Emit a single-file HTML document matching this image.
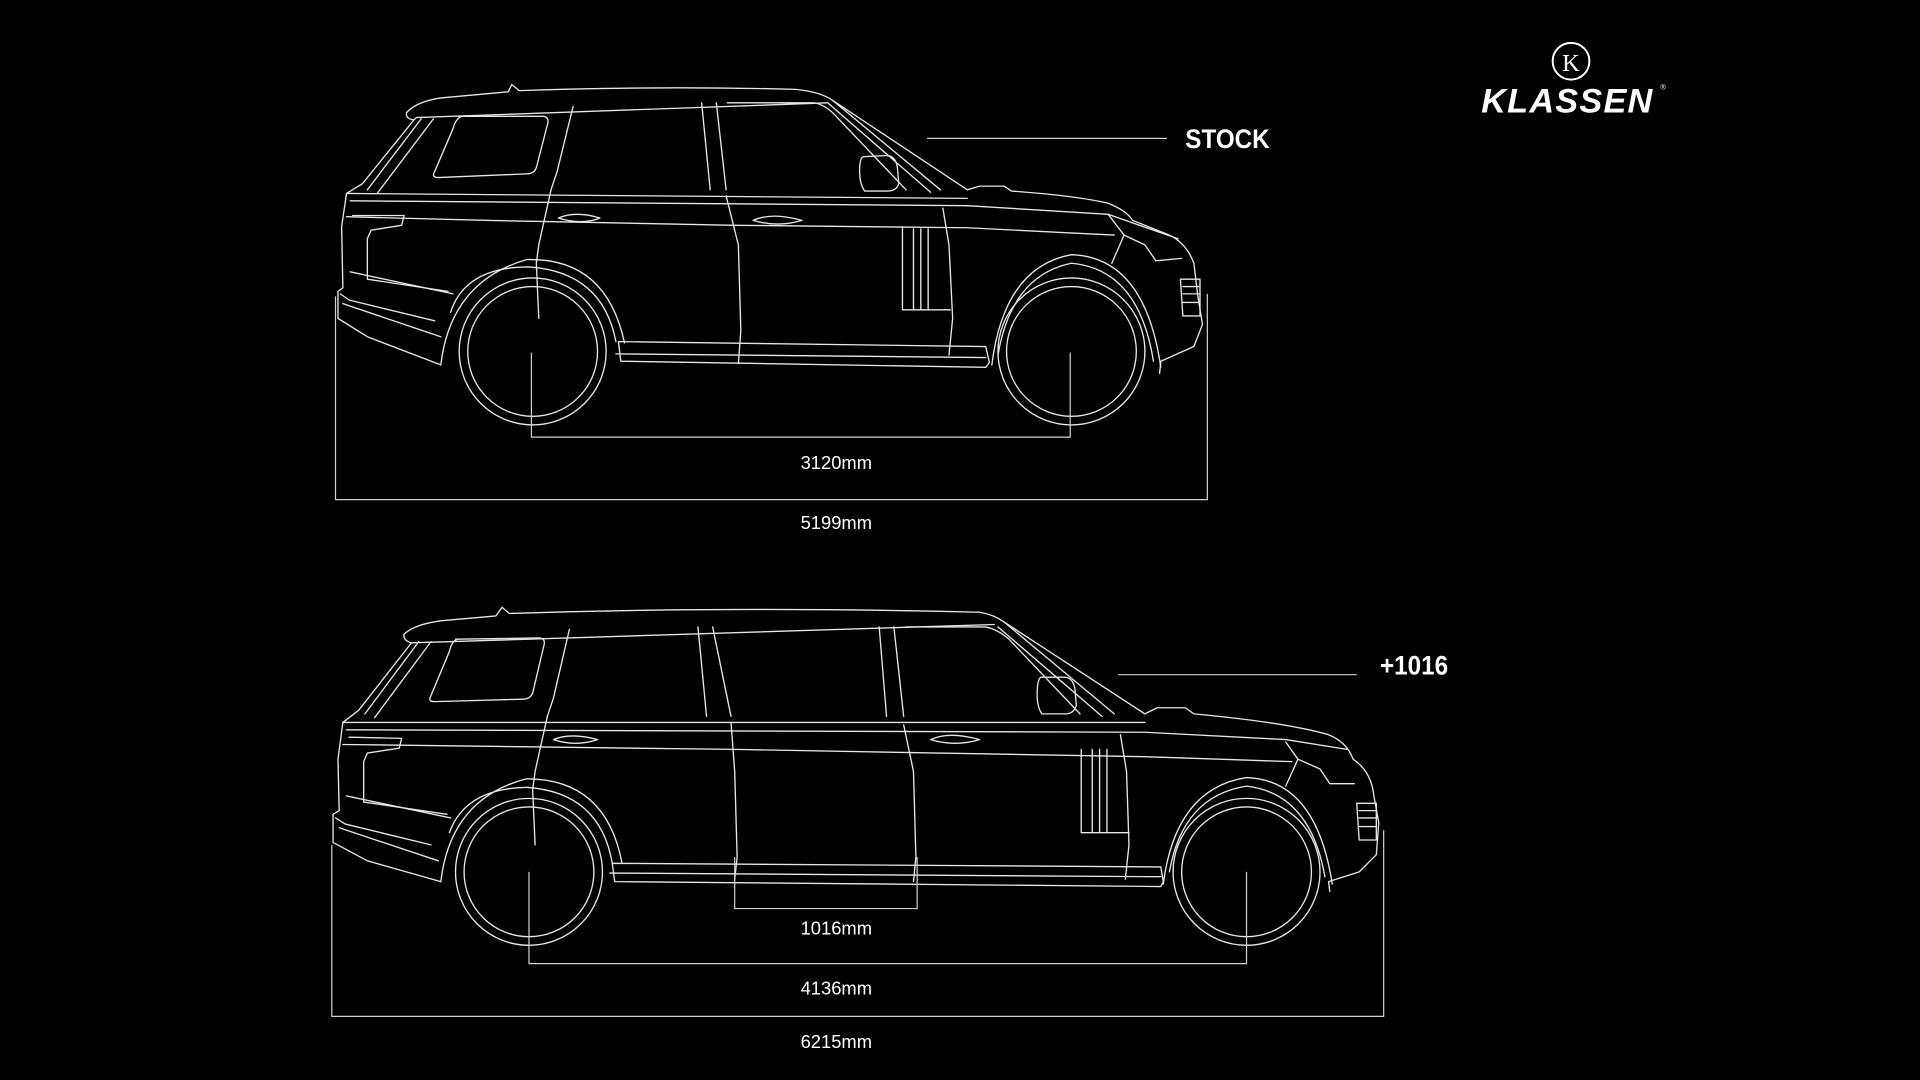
<!DOCTYPE html>
<html><head><meta charset="utf-8"><style>
html,body{margin:0;padding:0;background:#000;width:1920px;height:1080px;overflow:hidden}
svg{display:block}
text{font-family:"Liberation Sans",sans-serif;fill:#fff}
.l{fill:none;stroke:#e6e6e6;stroke-width:1.1;stroke-linejoin:round;stroke-linecap:round}
.d{fill:none;stroke:#cfcfcf;stroke-width:1}
</style></head><body>
<svg width="1920" height="1080" viewBox="0 0 1568 882" xmlns="http://www.w3.org/2000/svg">
<rect width="1568" height="882" fill="#000"/>

<!-- Logo -->
<circle cx="1283" cy="50" r="15" fill="none" stroke="#fff" stroke-width="1.6"/>
<text x="1283" y="58" font-size="20" font-family="Liberation Serif,serif" text-anchor="middle" style="font-family:'Liberation Serif',serif">K</text>
<text x="1280" y="92" font-size="28" font-weight="bold" font-style="italic" text-anchor="middle" letter-spacing="1">KLASSEN</text>
<text x="1356" y="73" font-size="6">®</text>

<!-- STOCK car -->
<g class="l">
  <!-- roof & outline -->
  <path d="M332,92 Q340,83 360,80 L415,75 L418,69 L424,74 Q540,70 650,73 Q670,75 680,82 L790,155 L800,152 L820,152 L826,156 Q880,160 905,166 Q920,172 925,180 L950,190 Q968,196 975,215 L978,240 L982,265 L975,283 L948,295 L947,305"/>
  <path d="M332,92 Q331,97 338,98 L340,96 L676,84"/>
  <path d="M338,98 L296,150 L283,158 L279,185 L280,235 L276,238 L276,260 L300,275 L360,298"/>
  <path d="M283,158 L790,162"/>
  <path d="M286,164 L790,168 L905,175 L962,195"/>
  <path d="M283,177 L400,180 L600,184 L790,186 L870,190 L910,192"/>
  <!-- windows -->
  <path d="M375,95 L444,95 Q449,96 447,102 L438,137 Q436,142 430,142 L358,145 Q352,145 355,140 L370,105 Q372,97 377,95Z"/>
  <path d="M344,97 L300,155"/>
  <path d="M354,97 L308,158"/>
  <path d="M468,87 L455,140 L450,155"/>
  <path d="M573,84 L580,155"/>
  <path d="M585,84 L593,155"/>
  <path d="M594,84 L665,84 Q672,85 680,92 L740,155"/>
  <path d="M676,84 L760,157"/>
  <path d="M680,82 L768,155"/>
  <!-- mirror -->
  <path d="M705,128 L725,127 Q732,128 733,138 L734,150 Q732,156 725,156 L706,156 Q702,150 702,140 Q702,129 705,128Z"/>
  <!-- door lines -->
  <path d="M450,155 L440,200 L438,215 L440,260"/>
  <path d="M593,160 L603,200 L605,270 L603,297"/>
  <path d="M770,170 L775,200 L778,260 L775,290"/>
  <!-- handles -->
  <path d="M456,178 Q470,172 490,178 Q475,184 456,178Z"/>
  <path d="M615,180 Q630,173 655,180 Q635,186 615,180Z"/>
  <!-- side vent -->
  <path d="M737,185 L737,253 L776,253"/>
  <path d="M746,187 L746,253"/><path d="M752,187 L752,253"/><path d="M758,187 L758,253"/>
  <!-- rear light -->
  <path d="M288,176 L330,176 L328,184 L303,188 L300,195 L300,228 L366,238"/>
  <path d="M286,222 L370,240"/>
  <path d="M278,240 L285,245 L355,262"/>
  <path d="M280,248 L360,275"/>
  <!-- sill -->
  <path d="M505,279 L805,283 L808,296 L805,300 L507,295Z"/>
  <path d="M503,289 L805,292"/>
  <!-- front details -->
  <path d="M905,175 L918,192 L935,200 L944,213 L965,211"/>
  <path d="M918,192 L908,215"/>
  <path d="M964,228 L980,228 L980,258 L966,258Z"/>
  <path d="M966,234 L980,234 M966,240 L980,240 M966,247 L980,247"/>
  <!-- wheel arches -->
  <path d="M360,298 Q368,230 430,212 Q495,210 510,280"/>
  <path d="M368,255 Q380,218 432,218 Q492,222 503,279"/>
  <path d="M810,298 Q820,218 875,208 Q935,210 948,300"/>
  <path d="M815,290 Q826,225 875,215 Q930,220 942,295"/>
  <circle cx="435" cy="287" r="60"/><circle cx="435" cy="287" r="53"/>
  <circle cx="875" cy="287" r="60"/><circle cx="875" cy="287" r="53"/>
</g>
<g class="d">
  <path d="M434,288 V357 H874 V288"/>
  <path d="M274,242 V408 H986 V240"/>
  <path d="M757,113 H953"/>
</g>
<text x="683" y="383" font-size="15" text-anchor="middle">3120mm</text>
<text x="683" y="432" font-size="15" text-anchor="middle">5199mm</text>
<text x="968" y="121" font-size="22" font-weight="bold" transform="translate(968,0) scale(0.9,1) translate(-968,0)">STOCK</text>

<!-- LONG car -->
<g class="l">
  <path d="M330,518 Q338,510 360,507 L405,503 L410,496 L416,501 Q600,495 800,500 Q812,502 820,508 L935,583 L945,578 L968,578 L975,583 Q1050,590 1085,600 Q1100,606 1105,620 Q1120,630 1122,650 L1126,672 L1124,698 L1110,712 L1085,720 L1086,728"/>
  <path d="M330,518 Q329,523 336,525 L812,510"/>
  <path d="M336,525 L293,580 L280,590 L276,620 L277,662 L272,665 L272,688 L300,703 L360,720"/>
  <path d="M280,590 L935,590"/>
  <path d="M283,596 L935,598 L1050,604 L1100,612"/>
  <path d="M280,608 L600,612 L935,618 L1055,622"/>
  <path d="M372,522 L441,521 Q446,522 444,528 L435,566 Q433,571 427,571 L355,573 Q349,573 352,568 L367,532 Q369,523 374,522Z"/>
  <path d="M342,524 L298,583"/>
  <path d="M352,524 L306,586"/>
  <path d="M465,514 L452,570 L447,585"/>
  <path d="M570,512 L577,585"/>
  <path d="M582,512 L597,585"/>
  <path d="M718,512 L724,585"/>
  <path d="M730,512 L738,585"/>
  <path d="M740,512 L805,512 Q815,514 824,522 L882,583"/>
  <path d="M815,512 L900,585"/>
  <path d="M820,508 L910,583"/>
  <path d="M850,553 L870,553 Q877,554 878,564 L879,576 Q877,583 870,583 L851,583 Q847,578 847,567 Q847,555 850,553Z"/>
  <path d="M447,585 L437,630 L435,645 L437,690"/>
  <path d="M597,590 L600,630 L602,700 L600,718"/>
  <path d="M738,592 L746,630 L748,700 L746,720"/>
  <path d="M915,600 L920,630 L922,690 L919,718"/>
  <path d="M452,604 Q466,598 488,604 Q470,610 452,604Z"/>
  <path d="M760,604 Q775,597 800,604 Q780,610 760,604Z"/>
  <path d="M883,612 L883,680 L922,680"/>
  <path d="M892,612 L892,680"/><path d="M898,612 L898,680"/><path d="M904,612 L904,680"/>
  <path d="M285,602 L328,603 L326,611 L300,615 L297,622 L297,655 L365,665"/>
  <path d="M283,650 L368,668"/>
  <path d="M274,668 L282,673 L352,690"/>
  <path d="M277,676 L358,703"/>
  <path d="M500,705 L948,708 L950,720 L948,724 L502,720Z"/>
  <path d="M498,713 L948,716"/>
  <path d="M1050,606 L1060,620 L1078,628 L1086,640 L1106,640"/>
  <path d="M1060,620 L1050,642"/>
  <path d="M1108,656 L1124,656 L1124,686 L1110,686Z"/>
  <path d="M1110,662 L1124,662 M1110,668 L1124,668 M1110,675 L1124,675"/>
  <path d="M360,720 Q368,652 430,636 Q495,636 508,705"/>
  <path d="M367,680 Q380,644 430,643 Q490,647 500,705"/>
  <path d="M950,722 Q960,644 1018,635 Q1075,637 1088,722"/>
  <path d="M955,712 Q966,650 1018,642 Q1070,648 1082,716"/>
  <circle cx="432" cy="712" r="60"/><circle cx="432" cy="712" r="53"/>
  <circle cx="1018" cy="712" r="60"/><circle cx="1018" cy="712" r="53"/>
</g>
<g class="d">
  <path d="M600,700 V742 H749 V700"/>
  <path d="M432,712 V787 H1018 V712"/>
  <path d="M271,690 V830 H1130 V678"/>
  <path d="M913,551 H1108"/>
</g>
<text x="683" y="763" font-size="15" text-anchor="middle">1016mm</text>
<text x="683" y="812" font-size="15" text-anchor="middle">4136mm</text>
<text x="683" y="856" font-size="15" text-anchor="middle">6215mm</text>
<text x="1127" y="551" font-size="22" font-weight="bold" transform="translate(1127,0) scale(0.9,1) translate(-1127,0)">+1016</text>
</svg>
</body></html>
